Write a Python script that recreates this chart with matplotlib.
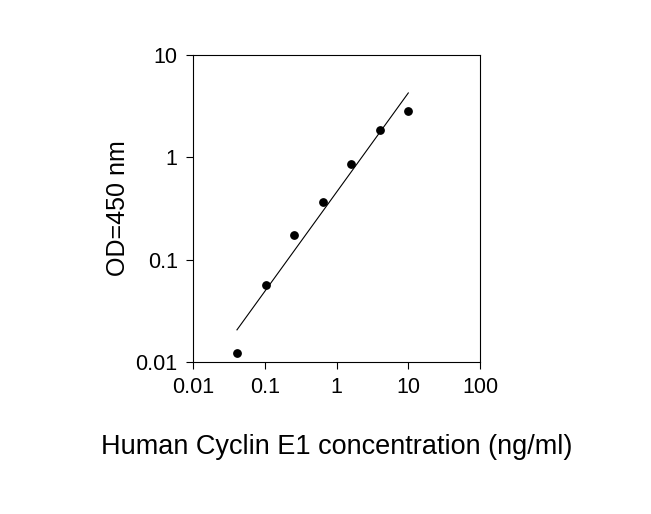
import numpy as np
import matplotlib
matplotlib.use("Agg")
import matplotlib.pyplot as plt

plt.rcParams['font.family'] = ['Liberation Sans', 'DejaVu Sans']

# standard curve, 2.5-fold dilution series
conc = [0.04096, 0.1024, 0.256, 0.64, 1.6, 4.0, 10.0]
od = [0.0123, 0.057, 0.173, 0.369, 0.856, 1.84, 2.84]

x_ticks = [0.01, 0.1, 1, 10, 100]
x_labels = ['0.01', '0.1', '1', '10', '100']
y_ticks = [0.01, 0.1, 1, 10]
y_labels = ['0.01', '0.1', '1', '10']

# log-log linear fit
slope, icpt = np.polyfit(np.log10(conc), np.log10(od), 1)
fit_x = np.array([conc[0], conc[-1]])
fit_y = 10 ** (icpt + slope * np.log10(fit_x))

fig = plt.figure(figsize=(6.51, 5.14), dpi=100)
ax = fig.add_axes([0.2965, 0.2957, 0.4409, 0.5973])

ax.plot(fit_x, fit_y, color='black', linewidth=0.8)
ax.scatter(conc, od, color='black', s=28, zorder=5)

ax.set_xscale('log')
ax.set_yscale('log')
ax.set_xlim(0.01, 100)
ax.set_ylim(0.01, 10)
ax.set_xticks(x_ticks)
ax.set_xticklabels(x_labels)
ax.set_yticks(y_ticks)
ax.set_yticklabels(y_labels)
ax.minorticks_off()
ax.tick_params(direction='out', length=5, width=0.8, labelsize=15.5, pad=6)

for s in ax.spines.values():
    s.set_linewidth(0.8)

ax.set_xlabel('Human Cyclin E1 concentration (ng/ml)', fontsize=19.5, labelpad=26)
ax.set_ylabel('OD=450 nm', fontsize=18, labelpad=4)

fig.savefig('out.png', dpi=100)
